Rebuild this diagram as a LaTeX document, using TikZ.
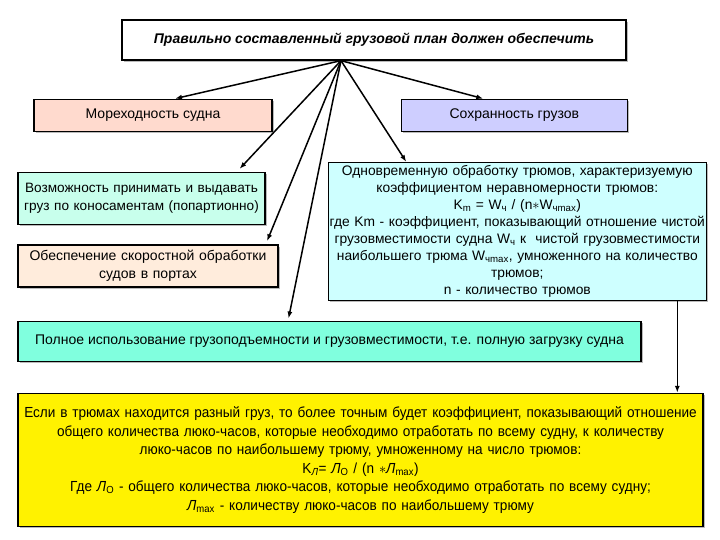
\documentclass[tikz,border=0pt]{standalone}
\usepackage{fontspec}
\setmainfont{Liberation Sans}
\newfontfamily\narrowfont[FakeStretch=0.93]{Liberation Sans}
\usepackage{xcolor}
\usepackage{tikz}
\usetikzlibrary{positioning,calc,shadows,arrows.meta}

\definecolor{morcolor}{RGB}{255,218,206}
\definecolor{sohrcolor}{RGB}{206,206,255}
\definecolor{vozcolor}{RGB}{200,255,236}
\definecolor{obescolor}{RGB}{255,236,220}
\definecolor{odncolor}{RGB}{206,255,255}
\definecolor{polncolor}{RGB}{128,255,222}

\begin{document}
\begin{tikzpicture}[>={Latex[length=7pt,width=5pt]},
    planbox/.style={rectangle, draw=black, line width=1.3pt, text centered, inner sep=2pt,
        drop shadow={shadow xshift=1.6pt, shadow yshift=-1.6pt, fill=black!45, opacity=0.6},
        font=\fontsize{14}{18}\selectfont},
    planarrow/.style={->, line width=1.5pt}]
    \useasboundingbox (0,0) rectangle (720pt,-540pt);

    % Main statement - positioned at the top
    \node [planbox, fill=white, minimum width=504pt, minimum height=40pt,
        font=\fontsize{14}{16}\selectfont\bfseries\itshape] (plan) at (374pt,-40pt) {
        Правильно составленный грузовой план должен обеспечить
    };

    % First row of requirements
    \node [planbox, fill=morcolor, minimum width=238pt, minimum height=32pt, below=38pt of plan, xshift=-221pt] (mor) {
        Мореходность судна
    };
    \node [planbox, fill=sohrcolor, minimum width=226pt, minimum height=32pt, right=128pt of mor] (sohr) {
        Сохранность грузов
    };

    % Left column of requirements
    \node [planbox, fill=vozcolor, text width=243pt, minimum height=52pt, below=40pt of mor, xshift=-11.5pt,
        font=\fontsize{13.6}{18}\selectfont] (voz) {
        Возможность принимать и выдавать\\
        груз по коносаментам (попартионно)
    };
    \node [planbox, fill=obescolor, text width=256pt, minimum height=42pt, below=19pt of voz, xshift=6.5pt] (obes) {
        Обеспечение скоростной обработки\\
        судов в портах
    };

    % Holds coefficient - positioned right
    \node [planbox, fill=odncolor, text width=378pt, minimum height=138pt, inner sep=0pt, below=30pt of sohr, xshift=3pt,
        font=\fontsize{13.8}{17}\selectfont] (odn) {
        Одновременную обработку трюмов, характеризуемую\\
        коэффициентом неравномерности трюмов:\\
        K\textsubscript{m} = W\textsubscript{ч} / (n$\ast$W\textsubscript{чmax})\\
        где Km - коэффициент, показывающий отношение чистой\\
        грузовместимости судна W\textsubscript{ч} к~ чистой грузовместимости\\
        наибольшего трюма W\textsubscript{чmax}, умноженного на количество\\
        трюмов;\\
        n - количество трюмов
    };

    % Full loading - wide box
    \node [planbox, fill=polncolor, minimum width=623pt, minimum height=40pt, below=33pt of obes, xshift=181.5pt] (poln) {
        Полное использование грузоподъемности и грузовместимости, т.е. полную загрузку судна
    };

    % Hatch-hours coefficient - positioned at the bottom
    \node [planbox, fill=yellow, text width=685pt, inner sep=0pt, minimum height=133pt, below=31pt of poln, xshift=31pt,
        font=\narrowfont\fontsize{14.6}{18.6}\selectfont] (luk) {
        Если в трюмах находится разный груз, то более точным будет коэффициент, показывающий отношение\\
        общего количества люко-часов, которые необходимо отработать по всему судну, к количеству\\
        люко-часов по наибольшему трюму, умноженному на число трюмов:\\
        K\textsubscript{\textit{Л}}= \textit{Л}\textsubscript{O} / (n $\ast$\textit{Л}\textsubscript{max})\\
        Где \textit{Л}\textsubscript{O} - общего количества люко-часов, которые необходимо отработать по всему судну;\\
        \textit{Л}\textsubscript{max} - количеству люко-часов по наибольшему трюму
    };

    % Arrows from the main statement
    \coordinate (apex) at ([xshift=-33pt]plan.south);
    \draw [planarrow] (apex) -- ([xshift=22pt]mor.north);
    \draw [planarrow] (apex) -- ([xshift=-31pt]sohr.north);
    \draw [planarrow] (apex) -- ([xshift=98pt,yshift=3pt]voz.north);
    \draw [planarrow] (apex) -- ([xshift=119pt,yshift=3pt]obes.north);
    \draw [planarrow] (apex) -- ([xshift=-41pt,yshift=2pt]poln.north);
    \draw [planarrow] (apex) -- ([xshift=-111pt]odn.north);

    % Arrow down to the hatch-hours coefficient
    \draw [planarrow] ([xshift=160pt]odn.south) -- ([xshift=160pt]odn.south |- luk.north);

\end{tikzpicture}
\end{document}
